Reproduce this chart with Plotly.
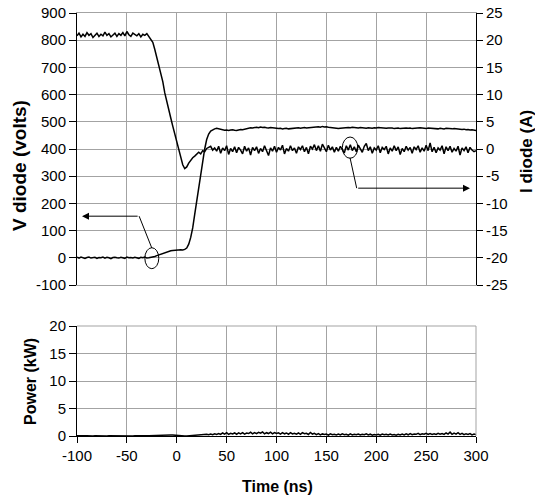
import plotly.graph_objects as go

# ---------------- data ----------------
time_ns = list(range(-100, 301, 2))  # sample grid, 2 ns

v_diode = [
    2, -1, 3, 0, -2, 1, 3, -1, 0, 2,
    -2, 1, 0, 3, -1, 2, 0, -3, 1, 2,
    0, -1, 2, 1, -2, 3, 0, 1, -1, 2,
    1, -2, 2, 0, 3, -1, 0, 1, 3, 5,
    8, 11, 14, 17, 20, 22, 24, 26, 27, 28,
    28, 29, 30, 29, 31, 36, 50, 75, 110, 160,
    210, 260, 310, 355, 400, 435, 455, 466, 471, 474,
    476, 474, 472, 470, 469, 470, 468, 470, 471, 469,
    468, 470, 472, 471, 473, 475, 476, 478, 477, 479,
    480, 478, 481, 479, 480, 478, 477, 479, 478, 476,
    477, 475, 476, 474, 475, 476, 474, 475, 477, 476,
    477, 478, 476, 478, 479, 477, 478, 480, 479, 480,
    481, 482, 480, 483, 481, 482, 480, 479, 478, 476,
    477, 475, 476, 477, 478, 477, 479, 478, 480, 479,
    478, 477, 479, 478, 477, 476, 478, 477, 476, 478,
    477, 479, 478, 477, 478, 476, 477, 478, 477, 475,
    476, 477, 475, 476, 478, 477, 476, 477, 475, 476,
    477, 476, 478, 477, 476, 475, 477, 476, 475, 476,
    475, 474, 476, 475, 474, 476, 475, 473, 474, 475,
    474, 473, 474, 472, 473, 471, 472, 470, 471, 469,
    468,
]

i_diode = [
    20.8, 21.3, 20.6, 21.1, 20.7, 21.4, 20.9, 21.2, 20.5, 21.0,
    21.3, 20.7, 21.1, 20.8, 21.5, 20.9, 21.2, 20.6, 21.0, 21.3,
    20.7, 21.2, 20.9, 21.4, 20.8, 21.6, 21.0, 20.7, 21.3, 21.1,
    20.8, 21.2, 20.6, 21.1, 20.9, 21.2, 20.7, 20.3, 19.6, 18.3,
    16.9, 15.4, 13.8, 12.4, 10.3, 8.6, 7.4, 5.7, 4.2, 2.8,
    1.2, -0.4, -1.6, -2.9, -3.6, -3.3, -2.6, -2.0, -1.6, -1.3,
    -1.0, -0.6, -0.9, -0.3, -0.5, 0.1, 0.3, 0.5, -0.2, 0.2,
    -0.4, 0.5, -0.8, 0.2, -0.3, 0.6, -1.0, 0.1, -0.5, 0.4,
    -0.7, 0.3, -0.2, -0.9, 0.5, -0.4, 0.2, -1.1, 0.3, -0.3,
    0.4, -0.8, 0.1, -0.5, 0.6, -0.3, -1.2, 0.2, -0.4, 0.5,
    -0.6, 0.3, -0.2, 0.7, -0.9, 0.1, -0.4, 0.6, -0.3, 0.2,
    -0.8, 0.4, -0.1, 0.6, -0.5, 0.3, -0.9, 0.5, 0.0, 0.8,
    -0.3, 0.6, -0.4, 0.9, 0.1, -0.5, 0.7, -0.2, 0.4, -0.6,
    0.3, -0.4, 0.5, 0.0, -0.7, 0.6, -0.2, 0.8, -0.3, 0.4,
    -0.5, 0.7, 0.1, -0.6, 0.5, 1.0, -0.3, 0.4, -0.8, 0.2,
    -0.2, 0.6, -0.7, 0.3, -0.1, 0.5, -0.9, 0.2, -0.4, 0.6,
    -0.3, 0.4, -1.0, 0.1, -0.5, 0.5, -0.2, 0.3, -0.8, 0.4,
    -0.1, 0.6, -0.6, 0.2, -0.4, 0.7, -0.3, 1.1, -0.5, 0.3,
    -0.7, 0.2, -0.2, 0.6, -0.9, 0.4, -0.3, 0.5, -0.6, 0.1,
    -0.4, 0.5, -1.1, 0.2, -0.3, 0.4, -0.7, 0.3, -0.2, -0.5,
    -0.3,
]

power_kw = [
    0.05, 0.02, 0.06, 0.0, 0.03, 0.05, 0.01, 0.04, 0.02, 0.05,
    0.03, 0.0, 0.05, 0.02, 0.06, 0.01, 0.04, 0.03, 0.0, 0.05,
    0.02, 0.04, 0.01, 0.05, 0.03, 0.06, 0.02, 0.04, 0.01, 0.05,
    0.03, 0.05, 0.02, 0.06, 0.04, 0.03, 0.05, 0.07, 0.08, 0.1,
    0.14, 0.17, 0.2, 0.22, 0.23, 0.23, 0.22, 0.2, 0.17, 0.13,
    0.08, 0.03, 0.01, 0.0, 0.0, 0.02, 0.05, 0.08, 0.1, 0.15,
    0.12, 0.2, 0.15, 0.28, 0.18, 0.3, 0.22, 0.35, 0.25, 0.4,
    0.3, 0.45, 0.28, 0.55, 0.35, 0.6, 0.3, 0.5, 0.38, 0.55,
    0.32, 0.58, 0.4, 0.62, 0.35, 0.55, 0.45, 0.68, 0.38, 0.6,
    0.42, 0.65, 0.5, 0.72, 0.4, 0.6, 0.45, 0.7, 0.38, 0.62,
    0.45, 0.58, 0.36, 0.6, 0.4, 0.55, 0.32, 0.62, 0.38, 0.5,
    0.35, 0.55, 0.3, 0.6, 0.42, 0.5, 0.28, 0.65, 0.35, 0.48,
    0.25, 0.42, 0.2, 0.38, 0.28, 0.35, 0.15, 0.4, 0.22, 0.3,
    0.2, 0.35, 0.18, 0.4, 0.25, 0.32, 0.15, 0.38, 0.2, 0.3,
    0.22, 0.36, 0.18, 0.3, 0.25, 0.4, 0.2, 0.33, 0.15, 0.28,
    0.2, 0.32, 0.16, 0.35, 0.22, 0.3, 0.18, 0.36, 0.2, 0.28,
    0.15, 0.3, 0.2, 0.34, 0.18, 0.38, 0.22, 0.45, 0.25, 0.35,
    0.3, 0.48, 0.25, 0.4, 0.32, 0.5, 0.28, 0.45, 0.3, 0.42,
    0.28, 0.5, 0.32, 0.45, 0.3, 0.55, 0.35, 0.7, 0.3, 0.52,
    0.35, 0.6, 0.3, 0.48, 0.25, 0.42, 0.3, 0.45, 0.2, 0.35,
    0.25,
]

x_ticks = [-100, -50, 0, 50, 100, 150, 200, 250, 300]
v_ticks = [-100, 0, 100, 200, 300, 400, 500, 600, 700, 800, 900]
i_ticks = [-25, -20, -15, -10, -5, 0, 5, 10, 15, 20, 25]
p_ticks = [0, 5, 10, 15, 20]

# annotation markers (ellipse bounds and arrow paths, in data units)
v_ellipse = dict(x0=-32, x1=-18, y0=-40, y1=37)
v_leader = [(-25, 36), (-37.7, 153), (-95, 153)]
i_ellipse = dict(x0=166, x1=181.5, y0=-1.7, y1=2.2)
i_leader = [(173.7, -1.6), (180.4, -7.2), (294, -7.2)]

# ---------------- figure ----------------
W, H = 535, 500


def px(x):
    return x / W


def py(y):
    return 1 - y / H


XD = [px(77), px(476)]
TOP = [py(285), py(13)]
BOT = [py(436), py(326)]
GRID = "#a3a3a3"
FONT = "Liberation Sans, Arial, Helvetica, sans-serif"


def labels(vals):
    return [str(v) for v in vals]


fig = go.Figure()
line_style = dict(color="black", width=1.5)
fig.add_trace(go.Scatter(x=time_ns, y=v_diode, mode="lines", line=line_style,
                         xaxis="x", yaxis="y", hoverinfo="skip"))
fig.add_trace(go.Scatter(x=time_ns, y=i_diode, mode="lines", line=line_style,
                         xaxis="x", yaxis="y2", hoverinfo="skip"))
fig.add_trace(go.Scatter(x=time_ns, y=power_kw, mode="lines", line=line_style,
                         xaxis="x2", yaxis="y3", hoverinfo="skip"))

tickfont = dict(family=FONT, size=15, color="black")

fig.update_layout(
    template="none",
    width=W, height=H,
    margin=dict(l=0, r=0, t=0, b=0, pad=0),
    paper_bgcolor="white", plot_bgcolor="white",
    showlegend=False,
    font=dict(family=FONT, size=15, color="black"),
    xaxis=dict(domain=XD, anchor="y", range=[-100, 300], tickvals=x_ticks,
               showticklabels=False, ticks="", showgrid=True, gridcolor=GRID,
               gridwidth=1, zeroline=False, showline=True, linecolor=GRID,
               linewidth=1, mirror=True, automargin=False),
    yaxis=dict(domain=TOP, anchor="x", range=[-100, 900], tickvals=v_ticks,
               ticktext=labels(v_ticks), ticklabeloverflow="allow",
               showgrid=True, gridcolor=GRID, gridwidth=1, zeroline=False,
               showline=True, linecolor="black", linewidth=1,
               ticks="outside", ticklen=7, tickcolor="black", tickwidth=1,
               tickfont=tickfont, automargin=False),
    yaxis2=dict(overlaying="y", anchor="x", side="right", range=[-25, 25],
                tickvals=i_ticks, ticktext=labels(i_ticks),
                ticklabeloverflow="allow",
                showgrid=False, zeroline=False,
                showline=True, linecolor="black", linewidth=1,
                ticks="outside", ticklen=6, tickcolor="black", tickwidth=1,
                tickfont=tickfont, automargin=False),
    xaxis2=dict(domain=XD, anchor="y3", range=[-100, 300], tickvals=x_ticks,
                ticktext=labels(x_ticks), ticklabeloverflow="allow",
                showgrid=True, gridcolor=GRID, gridwidth=1, zeroline=False,
                showline=True, linecolor="black", linewidth=1,
                ticks="outside", ticklen=6, tickcolor="black", tickwidth=1,
                tickfont=tickfont, automargin=False),
    yaxis3=dict(domain=BOT, anchor="x2", range=[0, 20], tickvals=p_ticks,
                ticktext=labels(p_ticks), ticklabeloverflow="allow",
                showgrid=True, gridcolor=GRID, gridwidth=1, zeroline=False,
                showline=True, linecolor="black", linewidth=1,
                ticks="outside", ticklen=7, tickcolor="black", tickwidth=1,
                tickfont=tickfont, automargin=False),
)

shapes = []
# gray borders of lower panel (top and right)
shapes.append(dict(type="line", xref="x2 domain", yref="y3 domain",
                   x0=0, x1=1, y0=1, y1=1, line=dict(color=GRID, width=1)))
shapes.append(dict(type="line", xref="x2 domain", yref="y3 domain",
                   x0=1, x1=1, y0=0, y1=1, line=dict(color=GRID, width=1)))
# ellipses
shapes.append(dict(type="circle", xref="x", yref="y", **v_ellipse,
                   line=dict(color="black", width=1)))
shapes.append(dict(type="circle", xref="x", yref="y2", **i_ellipse,
                   line=dict(color="black", width=1)))
# leader segments
shapes.append(dict(type="line", xref="x", yref="y",
                   x0=v_leader[0][0], y0=v_leader[0][1],
                   x1=v_leader[1][0], y1=v_leader[1][1],
                   line=dict(color="black", width=1)))
shapes.append(dict(type="line", xref="x", yref="y2",
                   x0=i_leader[0][0], y0=i_leader[0][1],
                   x1=i_leader[1][0], y1=i_leader[1][1],
                   line=dict(color="black", width=1)))
fig.update_layout(shapes=shapes)

annotations = [
    dict(xref="x", yref="y", axref="x", ayref="y",
         x=v_leader[2][0], y=v_leader[2][1], ax=v_leader[1][0], ay=v_leader[1][1],
         text="", showarrow=True, arrowhead=2, arrowsize=1.4, arrowwidth=1,
         arrowcolor="black", standoff=0, startstandoff=0),
    dict(xref="x", yref="y2", axref="x", ayref="y2",
         x=i_leader[2][0], y=i_leader[2][1], ax=i_leader[1][0], ay=i_leader[1][1],
         text="", showarrow=True, arrowhead=2, arrowsize=1.4, arrowwidth=1,
         arrowcolor="black", standoff=0, startstandoff=0),
    # axis titles
    dict(xref="paper", yref="paper", x=px(19), y=py(166),
         text="<b>V diode (volts)</b>", textangle=-90, showarrow=False,
         font=dict(family=FONT, size=19, color="black"),
         xanchor="center", yanchor="middle"),
    dict(xref="paper", yref="paper", x=px(526), y=py(152),
         text="<b>I diode (A)</b>", textangle=-90, showarrow=False,
         font=dict(family=FONT, size=17, color="black"),
         xanchor="center", yanchor="middle"),
    dict(xref="paper", yref="paper", x=px(30), y=py(382),
         text="<b>Power (kW)</b>", textangle=-90, showarrow=False,
         font=dict(family=FONT, size=16, color="black"),
         xanchor="center", yanchor="middle"),
    dict(xref="paper", yref="paper", x=px(277), y=py(486),
         text="<b>Time (ns)</b>", showarrow=False,
         font=dict(family=FONT, size=16, color="black"),
         xanchor="center", yanchor="middle"),
]
fig.update_layout(annotations=annotations)

# remove the page's default body margin so the 535x500 figure fills the window
page_css = ("document.body.style.margin='0';"
            "document.body.style.overflow='hidden';"
            "document.documentElement.style.overflow='hidden';")
fig.write_html("out.html", post_script=page_css,
               config={"displayModeBar": False, "staticPlot": True})
